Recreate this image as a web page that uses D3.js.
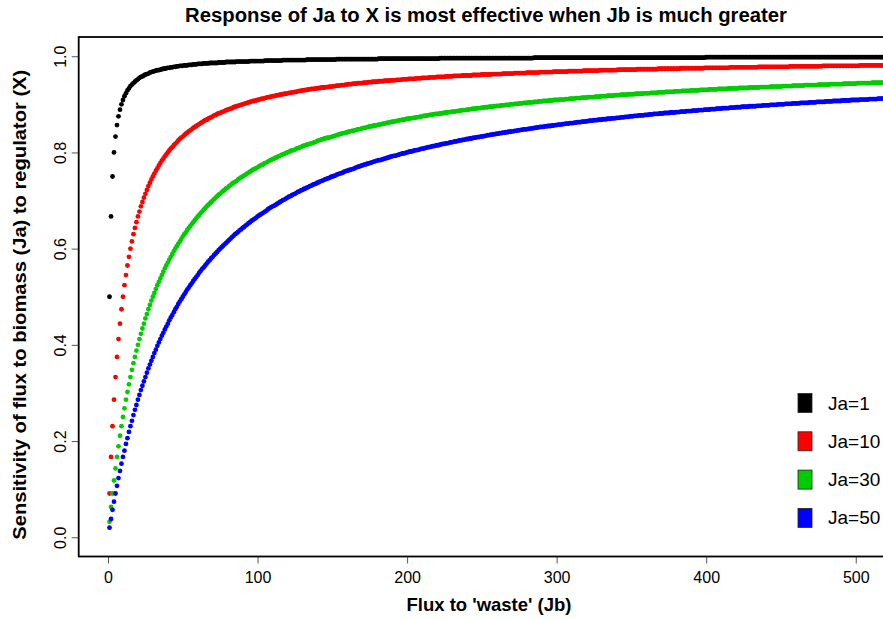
<!DOCTYPE html>
<html>
<head>
<meta charset="utf-8">
<script src="https://cdn.jsdelivr.net/npm/d3@7"></script>
<style>
  body { margin: 0; background: #ffffff; }
  svg { display: block; }
  text { font-family: "Liberation Sans", Arial, Helvetica, sans-serif; fill: #000; }
</style>
</head>
<body>
<svg id="chart" width="883" height="619"></svg>
<script>
// ---- Data ----
// x values: integer fluxes to 'waste' (Jb) = 1, 2, 3, ... 520
const jb = d3.range(1, 521);

// Sensitivity values, one per Jb (10 per row: Jb 1-10, 11-20, ...)
const ja1 = [
.5,.667,.75,.8,.833,.857,.875,.889,.9,.909,
.917,.923,.929,.933,.938,.941,.944,.947,.95,.952,
.955,.957,.958,.96,.962,.963,.964,.966,.967,.968,
.969,.97,.971,.971,.972,.973,.974,.974,.975,.976,
.976,.977,.977,.978,.978,.979,.979,.98,.98,.98,
.981,.981,.981,.982,.982,.982,.983,.983,.983,.984,
.984,.984,.984,.985,.985,.985,.985,.986,.986,.986,
.986,.986,.986,.987,.987,.987,.987,.987,.988,.988,
.988,.988,.988,.988,.988,.989,.989,.989,.989,.989,
.989,.989,.989,.989,.99,.99,.99,.99,.99,.99,
.99,.99,.99,.99,.991,.991,.991,.991,.991,.991,
.991,.991,.991,.991,.991,.991,.992,.992,.992,.992,
.992,.992,.992,.992,.992,.992,.992,.992,.992,.992,
.992,.992,.993,.993,.993,.993,.993,.993,.993,.993,
.993,.993,.993,.993,.993,.993,.993,.993,.993,.993,
.993,.993,.994,.994,.994,.994,.994,.994,.994,.994,
.994,.994,.994,.994,.994,.994,.994,.994,.994,.994,
.994,.994,.994,.994,.994,.994,.994,.994,.994,.994,
.995,.995,.995,.995,.995,.995,.995,.995,.995,.995,
.995,.995,.995,.995,.995,.995,.995,.995,.995,.995,
.995,.995,.995,.995,.995,.995,.995,.995,.995,.995,
.995,.995,.995,.995,.995,.995,.995,.995,.995,.995,
.995,.996,.996,.996,.996,.996,.996,.996,.996,.996,
.996,.996,.996,.996,.996,.996,.996,.996,.996,.996,
.996,.996,.996,.996,.996,.996,.996,.996,.996,.996,
.996,.996,.996,.996,.996,.996,.996,.996,.996,.996,
.996,.996,.996,.996,.996,.996,.996,.996,.996,.996,
.996,.996,.996,.996,.996,.996,.996,.996,.996,.996,
.996,.996,.996,.996,.997,.997,.997,.997,.997,.997,
.997,.997,.997,.997,.997,.997,.997,.997,.997,.997,
.997,.997,.997,.997,.997,.997,.997,.997,.997,.997,
.997,.997,.997,.997,.997,.997,.997,.997,.997,.997,
.997,.997,.997,.997,.997,.997,.997,.997,.997,.997,
.997,.997,.997,.997,.997,.997,.997,.997,.997,.997,
.997,.997,.997,.997,.997,.997,.997,.997,.997,.997,
.997,.997,.997,.997,.997,.997,.997,.997,.997,.997,
.997,.997,.997,.997,.997,.997,.997,.997,.997,.997,
.997,.997,.997,.997,.997,.997,.997,.997,.997,.997,
.997,.997,.997,.997,.997,.997,.997,.997,.997,.997,
.997,.997,.997,.997,.997,.997,.997,.997,.997,.998,
.998,.998,.998,.998,.998,.998,.998,.998,.998,.998,
.998,.998,.998,.998,.998,.998,.998,.998,.998,.998,
.998,.998,.998,.998,.998,.998,.998,.998,.998,.998,
.998,.998,.998,.998,.998,.998,.998,.998,.998,.998,
.998,.998,.998,.998,.998,.998,.998,.998,.998,.998,
.998,.998,.998,.998,.998,.998,.998,.998,.998,.998,
.998,.998,.998,.998,.998,.998,.998,.998,.998,.998,
.998,.998,.998,.998,.998,.998,.998,.998,.998,.998,
.998,.998,.998,.998,.998,.998,.998,.998,.998,.998,
.998,.998,.998,.998,.998,.998,.998,.998,.998,.998,
.998,.998,.998,.998,.998,.998,.998,.998,.998,.998,
.998,.998,.998,.998,.998,.998,.998,.998,.998,.998
];

const ja10 = [
.091,.167,.231,.286,.333,.375,.412,.444,.474,.5,
.524,.545,.565,.583,.6,.615,.63,.643,.655,.667,
.677,.688,.697,.706,.714,.722,.73,.737,.744,.75,
.756,.762,.767,.773,.778,.783,.787,.792,.796,.8,
.804,.808,.811,.815,.818,.821,.825,.828,.831,.833,
.836,.839,.841,.844,.846,.848,.851,.853,.855,.857,
.859,.861,.863,.865,.867,.868,.87,.872,.873,.875,
.877,.878,.88,.881,.882,.884,.885,.886,.888,.889,
.89,.891,.892,.894,.895,.896,.897,.898,.899,.9,
.901,.902,.903,.904,.905,.906,.907,.907,.908,.909,
.91,.911,.912,.912,.913,.914,.915,.915,.916,.917,
.917,.918,.919,.919,.92,.921,.921,.922,.922,.923,
.924,.924,.925,.925,.926,.926,.927,.928,.928,.929,
.929,.93,.93,.931,.931,.932,.932,.932,.933,.933,
.934,.934,.935,.935,.935,.936,.936,.937,.937,.937,
.938,.938,.939,.939,.939,.94,.94,.94,.941,.941,
.942,.942,.942,.943,.943,.943,.944,.944,.944,.944,
.945,.945,.945,.946,.946,.946,.947,.947,.947,.947,
.948,.948,.948,.948,.949,.949,.949,.949,.95,.95,
.95,.95,.951,.951,.951,.951,.952,.952,.952,.952,
.953,.953,.953,.953,.953,.954,.954,.954,.954,.955,
.955,.955,.955,.955,.956,.956,.956,.956,.956,.957,
.957,.957,.957,.957,.957,.958,.958,.958,.958,.958,
.959,.959,.959,.959,.959,.959,.96,.96,.96,.96,
.96,.96,.96,.961,.961,.961,.961,.961,.961,.962,
.962,.962,.962,.962,.962,.962,.963,.963,.963,.963,
.963,.963,.963,.964,.964,.964,.964,.964,.964,.964,
.964,.965,.965,.965,.965,.965,.965,.965,.965,.966,
.966,.966,.966,.966,.966,.966,.966,.966,.967,.967,
.967,.967,.967,.967,.967,.967,.967,.968,.968,.968,
.968,.968,.968,.968,.968,.968,.968,.969,.969,.969,
.969,.969,.969,.969,.969,.969,.969,.97,.97,.97,
.97,.97,.97,.97,.97,.97,.97,.97,.971,.971,
.971,.971,.971,.971,.971,.971,.971,.971,.971,.971,
.972,.972,.972,.972,.972,.972,.972,.972,.972,.972,
.972,.972,.972,.973,.973,.973,.973,.973,.973,.973,
.973,.973,.973,.973,.973,.973,.973,.974,.974,.974,
.974,.974,.974,.974,.974,.974,.974,.974,.974,.974,
.974,.974,.975,.975,.975,.975,.975,.975,.975,.975,
.975,.975,.975,.975,.975,.975,.975,.975,.976,.976,
.976,.976,.976,.976,.976,.976,.976,.976,.976,.976,
.976,.976,.976,.976,.976,.977,.977,.977,.977,.977,
.977,.977,.977,.977,.977,.977,.977,.977,.977,.977,
.977,.977,.977,.977,.978,.978,.978,.978,.978,.978,
.978,.978,.978,.978,.978,.978,.978,.978,.978,.978,
.978,.978,.978,.978,.978,.979,.979,.979,.979,.979,
.979,.979,.979,.979,.979,.979,.979,.979,.979,.979,
.979,.979,.979,.979,.979,.979,.979,.98,.98,.98,
.98,.98,.98,.98,.98,.98,.98,.98,.98,.98,
.98,.98,.98,.98,.98,.98,.98,.98,.98,.98,
.98,.98,.981,.981,.981,.981,.981,.981,.981,.981,
.981,.981,.981,.981,.981,.981,.981,.981,.981,.981
];

const ja30 = [
.032,.063,.091,.118,.143,.167,.189,.211,.231,.25,
.268,.286,.302,.318,.333,.348,.362,.375,.388,.4,
.412,.423,.434,.444,.455,.464,.474,.483,.492,.5,
.508,.516,.524,.531,.538,.545,.552,.559,.565,.571,
.577,.583,.589,.595,.6,.605,.61,.615,.62,.625,
.63,.634,.639,.643,.647,.651,.655,.659,.663,.667,
.67,.674,.677,.681,.684,.688,.691,.694,.697,.7,
.703,.706,.709,.712,.714,.717,.72,.722,.725,.727,
.73,.732,.735,.737,.739,.741,.744,.746,.748,.75,
.752,.754,.756,.758,.76,.762,.764,.766,.767,.769,
.771,.773,.774,.776,.778,.779,.781,.783,.784,.786,
.787,.789,.79,.792,.793,.795,.796,.797,.799,.8,
.801,.803,.804,.805,.806,.808,.809,.81,.811,.813,
.814,.815,.816,.817,.818,.819,.82,.821,.822,.824,
.825,.826,.827,.828,.829,.83,.831,.831,.832,.833,
.834,.835,.836,.837,.838,.839,.84,.84,.841,.842,
.843,.844,.845,.845,.846,.847,.848,.848,.849,.85,
.851,.851,.852,.853,.854,.854,.855,.856,.856,.857,
.858,.858,.859,.86,.86,.861,.862,.862,.863,.864,
.864,.865,.865,.866,.867,.867,.868,.868,.869,.87,
.87,.871,.871,.872,.872,.873,.873,.874,.874,.875,
.876,.876,.877,.877,.878,.878,.879,.879,.88,.88,
.88,.881,.881,.882,.882,.883,.883,.884,.884,.885,
.885,.885,.886,.886,.887,.887,.888,.888,.888,.889,
.889,.89,.89,.891,.891,.891,.892,.892,.892,.893,
.893,.894,.894,.894,.895,.895,.895,.896,.896,.897,
.897,.897,.898,.898,.898,.899,.899,.899,.9,.9,
.9,.901,.901,.901,.902,.902,.902,.903,.903,.903,
.904,.904,.904,.904,.905,.905,.905,.906,.906,.906,
.907,.907,.907,.907,.908,.908,.908,.909,.909,.909,
.909,.91,.91,.91,.91,.911,.911,.911,.912,.912,
.912,.912,.913,.913,.913,.913,.914,.914,.914,.914,
.915,.915,.915,.915,.915,.916,.916,.916,.916,.917,
.917,.917,.917,.918,.918,.918,.918,.918,.919,.919,
.919,.919,.92,.92,.92,.92,.92,.921,.921,.921,
.921,.921,.922,.922,.922,.922,.922,.923,.923,.923,
.923,.923,.924,.924,.924,.924,.924,.925,.925,.925,
.925,.925,.926,.926,.926,.926,.926,.926,.927,.927,
.927,.927,.927,.928,.928,.928,.928,.928,.928,.929,
.929,.929,.929,.929,.929,.93,.93,.93,.93,.93,
.93,.931,.931,.931,.931,.931,.931,.932,.932,.932,
.932,.932,.932,.932,.933,.933,.933,.933,.933,.933,
.933,.934,.934,.934,.934,.934,.934,.934,.935,.935,
.935,.935,.935,.935,.935,.936,.936,.936,.936,.936,
.936,.936,.937,.937,.937,.937,.937,.937,.937,.937,
.938,.938,.938,.938,.938,.938,.938,.939,.939,.939,
.939,.939,.939,.939,.939,.94,.94,.94,.94,.94,
.94,.94,.94,.94,.941,.941,.941,.941,.941,.941,
.941,.941,.942,.942,.942,.942,.942,.942,.942,.942,
.942,.943,.943,.943,.943,.943,.943,.943,.943,.943,
.944,.944,.944,.944,.944,.944,.944,.944,.944,.944,
.945,.945,.945,.945,.945,.945,.945,.945,.945,.945
];

const ja50 = [
.02,.038,.057,.074,.091,.107,.123,.138,.153,.167,
.18,.194,.206,.219,.231,.242,.254,.265,.275,.286,
.296,.306,.315,.324,.333,.342,.351,.359,.367,.375,
.383,.39,.398,.405,.412,.419,.425,.432,.438,.444,
.451,.457,.462,.468,.474,.479,.485,.49,.495,.5,
.505,.51,.515,.519,.524,.528,.533,.537,.541,.545,
.55,.554,.558,.561,.565,.569,.573,.576,.58,.583,
.587,.59,.593,.597,.6,.603,.606,.609,.612,.615,
.618,.621,.624,.627,.63,.632,.635,.638,.64,.643,
.645,.648,.65,.653,.655,.658,.66,.662,.664,.667,
.669,.671,.673,.675,.677,.679,.682,.684,.686,.688,
.689,.691,.693,.695,.697,.699,.701,.702,.704,.706,
.708,.709,.711,.713,.714,.716,.718,.719,.721,.722,
.724,.725,.727,.728,.73,.731,.733,.734,.735,.737,
.738,.74,.741,.742,.744,.745,.746,.747,.749,.75,
.751,.752,.754,.755,.756,.757,.758,.76,.761,.762,
.763,.764,.765,.766,.767,.769,.77,.771,.772,.773,
.774,.775,.776,.777,.778,.779,.78,.781,.782,.783,
.784,.784,.785,.786,.787,.788,.789,.79,.791,.792,
.793,.793,.794,.795,.796,.797,.798,.798,.799,.8,
.801,.802,.802,.803,.804,.805,.805,.806,.807,.808,
.808,.809,.81,.811,.811,.812,.813,.813,.814,.815,
.815,.816,.817,.818,.818,.819,.819,.82,.821,.821,
.822,.823,.823,.824,.825,.825,.826,.826,.827,.828,
.828,.829,.829,.83,.831,.831,.832,.832,.833,.833,
.834,.834,.835,.836,.836,.837,.837,.838,.838,.839,
.839,.84,.84,.841,.841,.842,.842,.843,.843,.844,
.844,.845,.845,.846,.846,.847,.847,.848,.848,.848,
.849,.849,.85,.85,.851,.851,.852,.852,.853,.853,
.853,.854,.854,.855,.855,.855,.856,.856,.857,.857,
.858,.858,.858,.859,.859,.86,.86,.86,.861,.861,
.861,.862,.862,.863,.863,.863,.864,.864,.864,.865,
.865,.866,.866,.866,.867,.867,.867,.868,.868,.868,
.869,.869,.869,.87,.87,.87,.871,.871,.871,.872,
.872,.872,.873,.873,.873,.874,.874,.874,.875,.875,
.875,.876,.876,.876,.877,.877,.877,.877,.878,.878,
.878,.879,.879,.879,.88,.88,.88,.88,.881,.881,
.881,.882,.882,.882,.882,.883,.883,.883,.883,.884,
.884,.884,.885,.885,.885,.885,.886,.886,.886,.886,
.887,.887,.887,.887,.888,.888,.888,.888,.889,.889,
.889,.889,.89,.89,.89,.89,.891,.891,.891,.891,
.892,.892,.892,.892,.892,.893,.893,.893,.893,.894,
.894,.894,.894,.895,.895,.895,.895,.895,.896,.896,
.896,.896,.896,.897,.897,.897,.897,.898,.898,.898,
.898,.898,.899,.899,.899,.899,.899,.9,.9,.9,
.9,.9,.901,.901,.901,.901,.901,.902,.902,.902,
.902,.902,.903,.903,.903,.903,.903,.903,.904,.904,
.904,.904,.904,.905,.905,.905,.905,.905,.905,.906,
.906,.906,.906,.906,.907,.907,.907,.907,.907,.907,
.908,.908,.908,.908,.908,.908,.909,.909,.909,.909,
.909,.909,.91,.91,.91,.91,.91,.91,.911,.911,
.911,.911,.911,.911,.912,.912,.912,.912,.912,.912
];

const seriesValues = [ja1, ja10, ja30, ja50];
const seriesLabels = ["Ja=1", "Ja=10", "Ja=30", "Ja=50"];
const seriesColors = ["#000000", "#ff0000", "#00cd00", "#0000ff"];

const xTickValues = [0, 100, 200, 300, 400, 500];
const yTickValues = [0, 0.2, 0.4, 0.6, 0.8, 1.0];

const chartTitle = "Response of Ja to X is most effective when Jb is much greater";
const xTitle = "Flux to 'waste' (Jb)";
const yTitle = "Sensitivity of flux to biomass (Ja) to regulator (X)";

// ---- Layout ----
const svg = d3.select("#chart");
const plot = { left: 78.7, right: 900, top: 37, bottom: 556.5 };

const x = d3.scaleLinear().domain([-19.6, 529.6]).range([plot.left, plot.right]);
const y = d3.scaleLinear().domain([-0.04, 1.04]).range([plot.bottom, plot.top]);

svg.append("rect").attr("width", 883).attr("height", 619).attr("fill", "#fff");

svg.append("defs").append("clipPath").attr("id", "plotclip")
  .append("rect")
  .attr("x", plot.left).attr("y", plot.top)
  .attr("width", plot.right - plot.left).attr("height", plot.bottom - plot.top);

// ---- Points ----
const pts = svg.append("g").attr("clip-path", "url(#plotclip)");
seriesValues.forEach((vals, si) => {
  pts.append("g")
    .attr("fill", seriesColors[si])
    .selectAll("circle")
    .data(vals.map((v, i) => ({ jb: jb[i], v: v })))
    .join("circle")
    .attr("cx", d => x(d.jb))
    .attr("cy", d => y(d.v))
    .attr("r", 2.4);
});

// ---- Axes ----
const xAxis = svg.append("g")
  .attr("transform", `translate(0,${plot.bottom})`)
  .call(d3.axisBottom(x).tickValues(xTickValues).tickSize(7).tickSizeOuter(0).tickPadding(8).tickFormat(d3.format("d")));
xAxis.select(".domain").remove();
xAxis.selectAll(".tick line").attr("stroke", "#555").attr("stroke-width", 1);
xAxis.selectAll(".tick text")
  .style("font-family", '"Liberation Sans", Arial, sans-serif')
  .style("font-size", "16px").attr("fill", "#000");

const yAxis = svg.append("g")
  .attr("transform", `translate(${plot.left},0)`)
  .call(d3.axisLeft(y).tickValues(yTickValues).tickSize(7).tickSizeOuter(0).tickFormat(d3.format(".1f")));
yAxis.select(".domain").remove();
yAxis.selectAll(".tick line").attr("stroke", "#555").attr("stroke-width", 1);
yAxis.selectAll(".tick text")
  .attr("x", null).attr("dy", null)
  .attr("text-anchor", "middle")
  .attr("transform", "translate(-13,0) rotate(-90)")
  .style("font-family", '"Liberation Sans", Arial, sans-serif')
  .style("font-size", "16px").attr("fill", "#000");

// ---- Plot box ----
svg.append("rect")
  .attr("x", plot.left).attr("y", plot.top)
  .attr("width", plot.right - plot.left).attr("height", plot.bottom - plot.top)
  .attr("fill", "none").attr("stroke", "#000").attr("stroke-width", 1.8);

// ---- Titles ----
svg.append("text")
  .attr("x", 486).attr("y", 22)
  .attr("text-anchor", "middle")
  .style("font-size", "20.3px").style("font-weight", "bold")
  .text(chartTitle);

svg.append("text")
  .attr("x", 489).attr("y", 611)
  .attr("text-anchor", "middle")
  .style("font-size", "18.5px").style("font-weight", "bold")
  .text(xTitle);

svg.append("text")
  .attr("transform", `translate(26,${(plot.top + plot.bottom) / 2 + 8}) rotate(-90)`)
  .attr("text-anchor", "middle")
  .attr("textLength", 470).attr("lengthAdjust", "spacingAndGlyphs")
  .style("font-size", "18.5px").style("font-weight", "bold")
  .text(yTitle);

// ---- Legend ----
const legend = svg.append("g");
seriesLabels.forEach((lab, i) => {
  const cy = 403 + i * 38.3;
  legend.append("rect")
    .attr("x", 798).attr("y", cy - 9.5)
    .attr("width", 14).attr("height", 19)
    .attr("fill", seriesColors[i]).attr("stroke", "#222").attr("stroke-width", 0.8);
  legend.append("text")
    .attr("x", 828).attr("y", cy + 6.5)
    .style("font-size", "19px")
    .text(lab);
});
</script>
</body>
</html>
